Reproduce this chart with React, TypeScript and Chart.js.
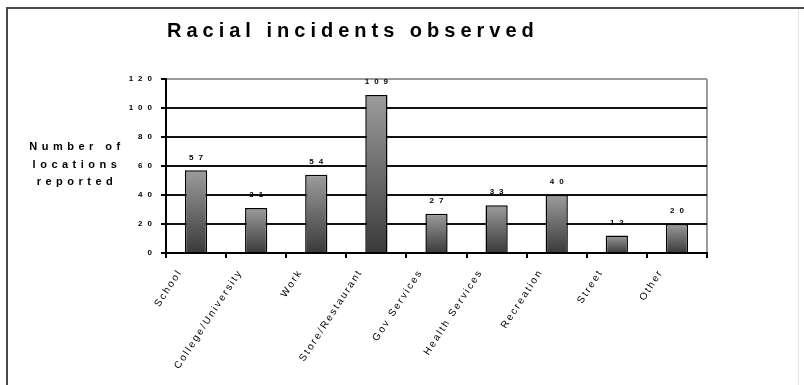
import React, { useEffect, useRef } from 'react';
import { Chart, registerables } from 'chart.js';

Chart.register(...registerables);

const categories = [
  'School',
  'College/University',
  'Work',
  'Store/Restaurant',
  'Gov Services',
  'Health Services',
  'Recreation',
  'Street',
  'Other',
];
const values = [57, 31, 54, 109, 27, 33, 40, 12, 20];
const yTicks = [0, 20, 40, 60, 80, 100, 120];
const titleText = 'Racial incidents observed';
const yTitleLines = ['Number of', 'locations', 'reported'];

const FONT = '"Liberation Sans", Arial, sans-serif';

const decor = {
  id: 'decor',
  beforeDraw(chart: any) {
    const c = chart.ctx as CanvasRenderingContext2D;
    c.save();
    c.fillStyle = '#ffffff';
    c.fillRect(0, 0, chart.width, chart.height);
    // outer frame
    c.strokeStyle = '#4a4a4a';
    c.lineWidth = 2;
    c.beginPath();
    c.moveTo(7, chart.height);
    c.lineTo(7, 8);
    c.lineTo(chart.width, 8);
    c.stroke();
    c.strokeStyle = '#e4e4e4';
    c.lineWidth = 1;
    c.beginPath();
    c.moveTo(798.5, 9);
    c.lineTo(798.5, chart.height);
    c.stroke();
    // title
    c.fillStyle = '#000';
    c.font = `bold 20px ${FONT}`;
    (c as any).letterSpacing = '5px';
    c.textAlign = 'left';
    c.textBaseline = 'alphabetic';
    c.fillText(titleText, 167, 37);
    // y axis title (horizontal, 3 lines)
    c.font = `bold 11px ${FONT}`;
    (c as any).letterSpacing = '4.5px';
    c.textAlign = 'center';
    c.textBaseline = 'middle';
    yTitleLines.forEach((t, i) => c.fillText(t, 77, 147 + i * 17.5));
    c.restore();
    (c as any).letterSpacing = '5px';
  },
  afterDatasetsDraw(chart: any) {
    const c = chart.ctx as CanvasRenderingContext2D;
    c.save();
    c.fillStyle = '#000';
    c.font = `bold 8px ${FONT}`;
    (c as any).letterSpacing = '5px';
    c.textAlign = 'center';
    c.textBaseline = 'middle';
    const meta = chart.getDatasetMeta(0);
    meta.data.forEach((bar: any, i: number) => {
      c.fillText(String(values[i]), bar.x + 2.5, bar.y - 13);
    });
    c.restore();
    (c as any).letterSpacing = '2px';
  },
  afterDraw(chart: any) {
    (chart.ctx as any).letterSpacing = '0px';
  },
};

export default function App() {
  const ref = useRef<HTMLCanvasElement | null>(null);

  useEffect(() => {
    if (!ref.current) return;
    const chart = new Chart(ref.current, {
      type: 'bar',
      data: {
        labels: categories,
        datasets: [
          {
            data: values,
            backgroundColor: (ctx: any) => {
              const ch = ctx.chart;
              if (!ch.chartArea || ctx.raw === undefined) return '#777';
              const ys = ch.scales.y;
              const top = ys.getPixelForValue(ctx.raw);
              const bottom = ys.getPixelForValue(0);
              const g = ch.ctx.createLinearGradient(0, top, 0, bottom);
              g.addColorStop(0, '#9c9c9c');
              g.addColorStop(1, '#3a3a3a');
              return g;
            },
            borderColor: '#000',
            borderWidth: 1.5,
            barPercentage: 0.37,
            categoryPercentage: 1,
          },
        ],
      },
      options: {
        animation: false,
        responsive: false,
        maintainAspectRatio: false,
        layout: { padding: { left: 0, top: 79, right: 97, bottom: 0 } },
        plugins: {
          legend: { display: false },
          title: { display: false },
          tooltip: { enabled: false },
        },
        scales: {
          x: {
            grid: {
              offset: true,
              drawOnChartArea: true,
              color: (ctx: any) => (ctx.tick === undefined ? '#9a9a9a' : 'rgba(0,0,0,0)'),
              tickColor: '#000',
              tickLength: 5,
              lineWidth: 2,
            },
            border: { color: '#000', width: 2, z: 1 },
            ticks: {
              z: 1,
              autoSkip: false,
              maxRotation: 57,
              minRotation: 57,
              labelOffset: -16,
              padding: 9,
              color: '#000',
              font: { family: FONT, size: 10 },
            },
            afterFit(scale: any) {
              scale.height = 132;
            },
          },
          y: {
            min: 0,
            max: 120,
            afterBuildTicks(scale: any) {
              scale.ticks = yTicks.map((v) => ({ value: v }));
            },
            grid: {
              color: (ctx: any) => (ctx.tick && ctx.tick.value === 120 ? '#9a9a9a' : '#111'),
              tickColor: '#000',
              lineWidth: 2,
              tickLength: 5,
            },
            border: { color: '#000', width: 2, z: 1 },
            ticks: {
              padding: 4,
              color: '#000',
              font: { family: FONT, size: 8, weight: 'bold' },
            },
            afterFit(scale: any) {
              scale.width = 166;
            },
          },
        },
      },
      plugins: [decor],
    });
    return () => chart.destroy();
  }, []);

  return (
    <div style={{ position: 'fixed', left: 0, top: 0, width: 804, height: 385, background: '#fff' }}>
      <canvas ref={ref} width={804} height={385} style={{ width: 804, height: 385, display: 'block' }} />
    </div>
  );
}
